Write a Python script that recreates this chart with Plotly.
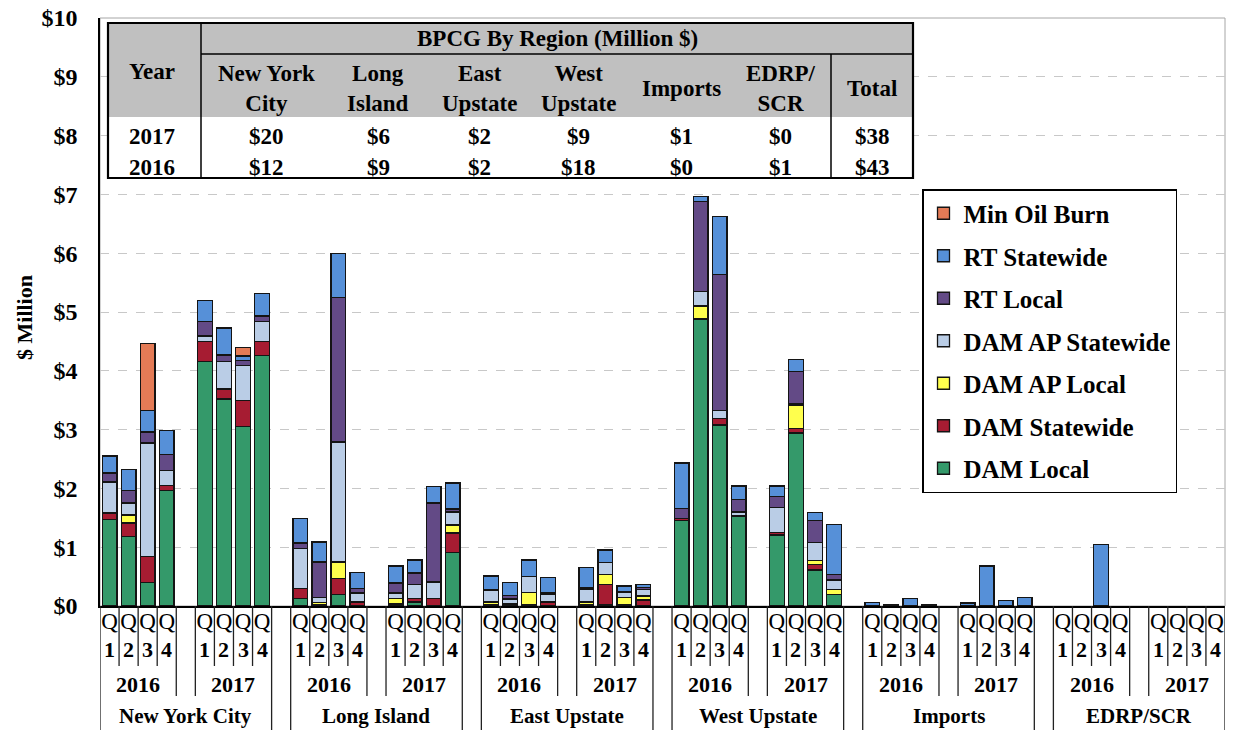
import plotly.graph_objects as go

# ---------------- data ($ million) ----------------
regions = ["New York City", "Long Island", "East Upstate", "West Upstate", "Imports", "EDRP/SCR"]
years = ["2016", "2017"]
quarters = ["1", "2", "3", "4"]

# order: region -> year (2016, 2017) -> quarter (Q1..Q4)
dam_local = [1.47, 1.18, 0.40, 1.97,  4.16, 3.52, 3.05, 4.26,
             0.13, 0.02, 0.20, 0.00,  0.02, 0.07, 0.00, 0.91,
             0.02, 0.02, 0.02, 0.00,  0.02, 0.02, 0.02, 0.00,
             1.45, 4.88, 3.08, 1.53,  1.21, 2.94, 0.61, 0.19,
             0, 0, 0, 0,  0, 0, 0, 0,
             0, 0, 0, 0,  0, 0, 0, 0]
dam_statewide = [0.11, 0.23, 0.44, 0.08,  0.34, 0.17, 0.44, 0.24,
                 0.17, 0.00, 0.27, 0.07,  0.02, 0.06, 0.13, 0.33,
                 0.00, 0.02, 0.00, 0.07,  0.00, 0.35, 0.00, 0.10,
                 0.04, 0.00, 0.11, 0.00,  0.04, 0.08, 0.09, 0.00,
                 0, 0, 0, 0,  0, 0, 0, 0,
                 0, 0, 0, 0,  0, 0, 0, 0]
damap_local = [0.00, 0.14, 0.00, 0.00,  0.00, 0.00, 0.00, 0.00,
               0.00, 0.04, 0.28, 0.00,  0.09, 0.00, 0.00, 0.14,
               0.05, 0.00, 0.21, 0.00,  0.05, 0.17, 0.12, 0.07,
               0.00, 0.22, 0.00, 0.00,  0.00, 0.40, 0.07, 0.09,
               0, 0, 0, 0,  0, 0, 0, 0,
               0, 0, 0, 0,  0, 0, 0, 0]
damap_statewide = [0.53, 0.20, 1.93, 0.26,  0.09, 0.47, 0.60, 0.34,
                   0.68, 0.09, 2.04, 0.15,  0.09, 0.24, 0.28, 0.22,
                   0.19, 0.08, 0.27, 0.13,  0.22, 0.20, 0.09, 0.11,
                   0.00, 0.25, 0.13, 0.07,  0.42, 0.02, 0.31, 0.16,
                   0, 0, 0, 0,  0, 0, 0, 0,
                   0, 0, 0, 0,  0, 0, 0, 0]
rt_local = [0.15, 0.21, 0.19, 0.27,  0.25, 0.11, 0.09, 0.09,
            0.09, 0.60, 2.46, 0.08,  0.17, 0.19, 1.34, 0.05,
            0.02, 0.06, 0.00, 0.02,  0.03, 0.00, 0.01, 0.03,
            0.17, 1.53, 2.32, 0.21,  0.19, 0.55, 0.37, 0.09,
            0, 0, 0, 0,  0, 0, 0, 0,
            0, 0, 0, 0,  0, 0, 0, 0]
rt_statewide = [0.29, 0.36, 0.37, 0.41,  0.35, 0.45, 0.07, 0.39,
                0.42, 0.34, 0.75, 0.27,  0.29, 0.22, 0.28, 0.44,
                0.23, 0.22, 0.28, 0.26,  0.33, 0.21, 0.10, 0.06,
                0.77, 0.08, 0.99, 0.23,  0.18, 0.20, 0.14, 0.86,
                0.06, 0.02, 0.13, 0.03,  0.05, 0.68, 0.09, 0.15,
                0.00, 0.00, 1.05, 0.00,  0.00, 0.00, 0.00, 0.00]
min_oil_burn = [0.00, 0.00, 1.14, 0.00,  0.00, 0.02, 0.15, 0.00,
                0, 0, 0, 0,  0, 0, 0, 0,
                0, 0, 0, 0,  0, 0, 0, 0,
                0, 0, 0, 0,  0, 0, 0, 0,
                0, 0, 0, 0,  0, 0, 0, 0,
                0, 0, 0, 0,  0, 0, 0, 0]

# summary table (BPCG by region, million $)
table_cols = ["New York<br>City", "Long<br>Island", "East<br>Upstate", "West<br>Upstate",
              "Imports", "EDRP/<br>SCR", "Total"]
table_years = ["2017", "2016"]
bpcg_2017 = [20, 6, 2, 9, 1, 0, 38]
bpcg_2016 = [12, 9, 2, 18, 0, 1, 43]

y_ticks = list(range(0, 11))

# ---------------- styling ----------------
FONT = "Liberation Serif"
W, H = 1233, 730
# plot area in window pixels
PX0, PX1, PY0, PY1 = 100, 1225, 18, 606
L, R, T, B = PX0, W - PX1, PY0, H - PY1
PW, PH = PX1 - PX0, PY1 - PY0


def px(x):
    return (x - PX0) / PW


def py(y):
    return (PY1 - y) / PH


series = [
    ("DAM Local", dam_local, "#34996a"),
    ("DAM Statewide", dam_statewide, "#a61c32"),
    ("DAM AP Local", damap_local, "#ffff4d"),
    ("DAM AP Statewide", damap_statewide, "#bacde6"),
    ("RT Local", rt_local, "#634a86"),
    ("RT Statewide", rt_statewide, "#5690d8"),
    ("Min Oil Burn", min_oil_burn, "#e47b56"),
]

# slot positions: 5 slots per year group (4 quarters + 1 blank)
xpos = [r * 10 + yi * 5 + q for r in range(len(regions))
        for yi in range(len(years)) for q in range(len(quarters))]

fig = go.Figure()
for i, (name, vals, color) in enumerate(series):
    fig.add_trace(go.Bar(
        x=xpos, y=[v if v else None for v in vals], name=name,
        legendgroup=name, legendrank=len(series) - i,
        marker=dict(color=color, line=dict(color="#141414", width=1.3)),
    ))

tickvals = xpos
ticktext = ["Q" for _ in xpos]

shapes = []
annotations = []


def ann(x, y, text, size, xref="paper", **kw):
    d = dict(x=x, y=y, xref=xref, yref="paper", text=text, showarrow=False,
             xanchor="center", yanchor="middle",
             font=dict(family=FONT, size=size, color="black"))
    d.update(kw)
    annotations.append(d)


# plot-area border (gray)
shapes.append(dict(type="rect", xref="paper", yref="paper", x0=0, x1=1, y0=0, y1=1,
                   line=dict(color="#a6a6a6", width=1), layer="below"))

# category divider lines and group labels under the axis
for r in range(len(regions)):
    for yi in range(len(years)):
        base = r * 10 + yi * 5
        for q in range(1, 4):
            shapes.append(dict(type="line", xref="x", yref="paper",
                               x0=base + q - 0.5, x1=base + q - 0.5, y0=0, y1=py(666),
                               line=dict(color="#222", width=1.3)))
        for q in range(4):
            ann(base + q, py(649), "<b>%s</b>" % quarters[q], 22, xref="x")
        ann(base + 1.5, py(684), "<b>%s</b>" % years[yi], 22, xref="x")
    # inner year-group edges
    for xe in (r * 10 + 3.5, r * 10 + 4.5):
        shapes.append(dict(type="line", xref="x", yref="paper", x0=xe, x1=xe,
                           y0=0, y1=py(696), line=dict(color="#222", width=1.3)))
    # region edges
    for xe in (r * 10 - 0.5, r * 10 + 8.5):
        shapes.append(dict(type="line", xref="x", yref="paper", x0=xe, x1=xe,
                           y0=0, y1=py(730), line=dict(color="#222", width=1.3)))
    ann(r * 10 + 4, py(716), "<b>%s</b>" % regions[r], 21, xref="x")

# ---------------- summary table ----------------
tx0, tx1, ty0, ty1 = 108, 913, 23, 178
hdr_bottom, title_bottom, year_sep, total_sep = 117, 54, 201, 831
shapes += [
    dict(type="rect", xref="paper", yref="paper", x0=px(tx0), x1=px(tx1),
         y0=py(hdr_bottom), y1=py(ty0), fillcolor="#c0c0c0", line=dict(width=0)),
    dict(type="rect", xref="paper", yref="paper", x0=px(tx0), x1=px(tx1),
         y0=py(ty1), y1=py(hdr_bottom), fillcolor="white", line=dict(width=0)),
    dict(type="line", xref="paper", yref="paper", x0=px(year_sep), x1=px(tx1),
         y0=py(title_bottom), y1=py(title_bottom), line=dict(color="black", width=1.5)),
    dict(type="line", xref="paper", yref="paper", x0=px(year_sep), x1=px(year_sep),
         y0=py(ty1), y1=py(ty0), line=dict(color="black", width=1.5)),
    dict(type="line", xref="paper", yref="paper", x0=px(total_sep), x1=px(total_sep),
         y0=py(ty1), y1=py(title_bottom), line=dict(color="black", width=1.5)),
    dict(type="rect", xref="paper", yref="paper", x0=px(tx0), x1=px(tx1),
         y0=py(ty1), y1=py(ty0), line=dict(color="black", width=2.2)),
]
col_centers = [266, 378, 479, 578, 681, 781, 872]
ann(px(152), py(71), "<b>Year</b>", 23)
ann(px(557), py(39), "<b>BPCG By Region (Million $)</b>", 23)
for cx, lab in zip(col_centers, table_cols):
    ann(px(cx), py(89), "<b>%s</b>" % lab, 23)
for ry, yr, vals in ((137, table_years[0], bpcg_2017), (168, table_years[1], bpcg_2016)):
    ann(px(152), py(ry), "<b>%s</b>" % yr, 23)
    for cx, v in zip(col_centers, vals):
        ann(px(cx), py(ry), "<b>$%d</b>" % v, 23)

# y-axis title
ann(px(24), py(318), "<b>$ Million</b>", 22, textangle=-90)

fig.update_layout(
    width=W, height=H,
    margin=dict(l=L, r=R, t=T, b=B, autoexpand=False),
    barmode="stack", bargap=0.23,
    paper_bgcolor="white", plot_bgcolor="white",
    font=dict(family=FONT, color="black"),
    showlegend=True,
    legend=dict(x=px(922), y=py(189), xanchor="left", yanchor="top",
                bgcolor="white", bordercolor="black", borderwidth=1.5,
                traceorder="grouped", tracegroupgap=7, itemwidth=30,
                font=dict(family=FONT, size=25, color="black", weight="bold")),
    xaxis=dict(range=[-0.5, 58.5], showgrid=False, zeroline=False,
               showline=True, linecolor="black", linewidth=1.5,
               tickmode="array", tickvals=tickvals, ticktext=ticktext, tickangle=0,
               ticks="", ticklabelstandoff=-6,
               tickfont=dict(family=FONT, size=23, color="black")),
    yaxis=dict(range=[0, 10], tickmode="array", tickvals=y_ticks,
               ticktext=["$%d" % v for v in y_ticks], ticklabeloverflow="allow",
               showgrid=True, gridcolor="#c8c8c8", griddash="dash", gridwidth=1,
               zeroline=False, showline=True, linecolor="black", linewidth=1.5,
               ticks="", ticklabelstandoff=16,
               tickfont=dict(family=FONT, size=24, color="black", weight="bold")),
    shapes=shapes, annotations=annotations,
)

# place the figure at the window's top-left corner (no default page margin)
fig.write_html("out.html", config={"displayModeBar": False},
               post_script="document.body.style.margin='0';document.body.style.overflow='hidden';")
